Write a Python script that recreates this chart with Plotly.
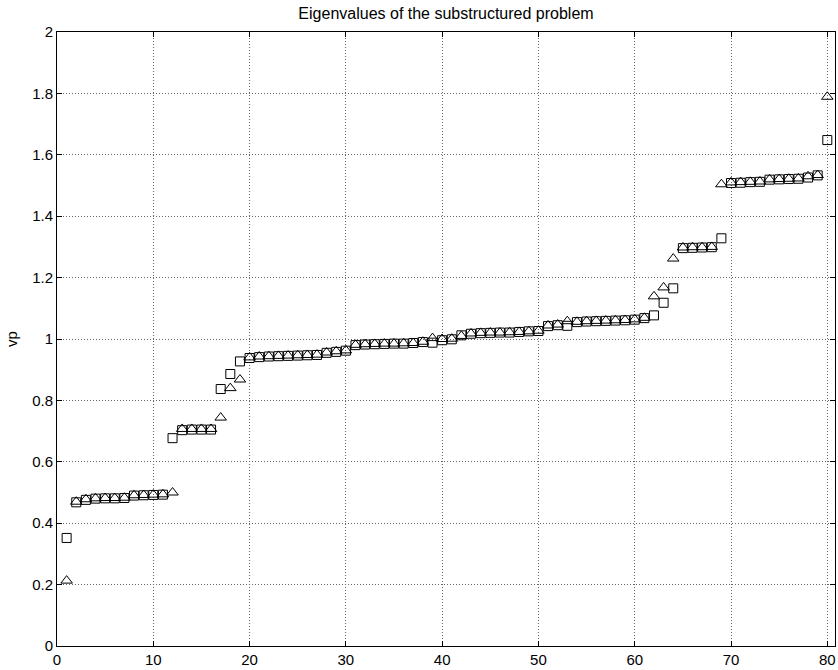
import plotly.graph_objects as go

idx = list(range(1, 81))

squares = [
    0.352, 0.468, 0.476, 0.480, 0.481, 0.481, 0.482, 0.490, 0.491, 0.492,
    0.493, 0.677, 0.703, 0.705, 0.705, 0.705, 0.837, 0.886, 0.927, 0.938,
    0.941, 0.943, 0.944, 0.945, 0.946, 0.947, 0.948, 0.955, 0.958, 0.962,
    0.980, 0.982, 0.983, 0.984, 0.985, 0.985, 0.987, 0.990, 0.988, 0.996,
    0.999, 1.012, 1.017, 1.019, 1.020, 1.021, 1.021, 1.023, 1.025, 1.026,
    1.042, 1.045, 1.043, 1.055, 1.057, 1.058, 1.059, 1.060, 1.061, 1.063,
    1.068, 1.077, 1.118, 1.165, 1.296, 1.297, 1.298, 1.299, 1.328, 1.508,
    1.509, 1.511, 1.512, 1.519, 1.520, 1.521, 1.522, 1.526, 1.533, 1.648,
]

triangles = [
    0.213, 0.470, 0.478, 0.481, 0.482, 0.482, 0.483, 0.491, 0.492, 0.493,
    0.494, 0.500, 0.707, 0.707, 0.707, 0.707, 0.744, 0.840, 0.868, 0.940,
    0.943, 0.944, 0.945, 0.946, 0.947, 0.948, 0.949, 0.956, 0.960, 0.963,
    0.981, 0.983, 0.984, 0.985, 0.985, 0.986, 0.987, 0.991, 1.003, 1.000,
    1.001, 1.010, 1.018, 1.020, 1.021, 1.021, 1.022, 1.023, 1.025, 1.027,
    1.044, 1.047, 1.058, 1.056, 1.058, 1.059, 1.060, 1.061, 1.062, 1.064,
    1.069, 1.139, 1.168, 1.262, 1.298, 1.299, 1.299, 1.300, 1.504, 1.510,
    1.511, 1.512, 1.513, 1.520, 1.521, 1.522, 1.523, 1.530, 1.534, 1.789,
]

title_text = "Eigenvalues of the substructured problem"
ylabel = "vp"
x_ticks = [0, 10, 20, 30, 40, 50, 60, 70, 80]
y_ticks = [0, 0.2, 0.4, 0.6, 0.8, 1, 1.2, 1.4, 1.6, 1.8, 2]

FONT = "Liberation Sans Narrow, Liberation Sans, Arial, sans-serif"

fig = go.Figure()
fig.add_trace(go.Scatter(
    x=idx, y=squares, mode="markers", name="squares",
    marker=dict(symbol="square-open", size=9, color="black", line=dict(width=1, color="black")),
))
fig.add_trace(go.Scatter(
    x=idx, y=triangles, mode="markers", name="triangles",
    marker=dict(symbol="triangle-up-open", size=10, color="black", line=dict(width=1, color="black")),
))

axis_common = dict(
    showline=True, linecolor="black", linewidth=1, mirror="ticks",
    ticks="inside", ticklen=5, tickcolor="black", tickwidth=1,
    showgrid=True, gridcolor="#666666", gridwidth=1, griddash="1px,2px",
    zeroline=False, tickfont=dict(family=FONT, size=15, color="black"),
)

fig.update_xaxes(range=[0, 80.8], tickvals=x_ticks, **axis_common)
fig.update_yaxes(range=[0, 2], tickvals=y_ticks, **axis_common)

fig.update_layout(
    width=838, height=670,
    margin=dict(l=57, r=2, t=32, b=20),
    plot_bgcolor="white", paper_bgcolor="white",
    showlegend=False,
    font=dict(family=FONT, color="black"),
    title=dict(text=title_text, x=0.5, xref="paper", xanchor="center",
               y=1 - 13 / 670, yref="container", yanchor="middle",
               font=dict(family=FONT, size=16, color="black")),
    annotations=[dict(text=ylabel, textangle=-90, xref="paper", yref="paper",
                      x=(11 - 57) / 779, y=0.5, xanchor="center", yanchor="middle",
                      showarrow=False, font=dict(family=FONT, size=15, color="black"))],
)

fig.write_html("out.html")
